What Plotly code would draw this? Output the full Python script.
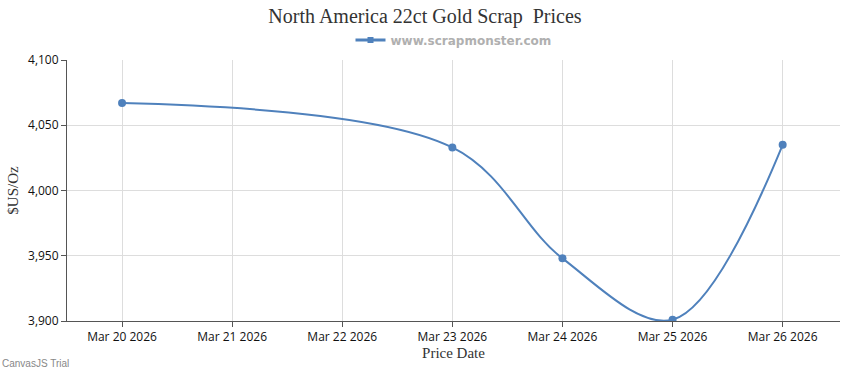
import plotly.graph_objects as go

dates = ["2026-03-20", "2026-03-23", "2026-03-24", "2026-03-25", "2026-03-26"]
prices = [4067, 4033, 3948, 3901, 4035]
tick_dates = ["2026-03-20", "2026-03-21", "2026-03-22", "2026-03-23",
              "2026-03-24", "2026-03-25", "2026-03-26"]
tick_labels = ["Mar 20 2026", "Mar 21 2026", "Mar 22 2026", "Mar 23 2026",
               "Mar 24 2026", "Mar 25 2026", "Mar 26 2026"]
y_ticks = [3900, 3950, 4000, 4050, 4100]
y_labels = ["3,900", "3,950", "4,000", "4,050", "4,100"]
series_name = "www.scrapmonster.com"

color = "#4F81BC"

W, H = 850, 370

fig = go.Figure()
fig.add_trace(go.Scatter(
    x=dates, y=prices, mode="lines+markers",
    name=series_name, showlegend=False,
    line=dict(color=color, width=2, shape="spline", smoothing=1.0),
    marker=dict(color=color, size=8, symbol="circle"),
))
# legend entry (CanvasJS style: line with square marker)
fig.add_trace(go.Scatter(
    x=[None], y=[None], mode="lines+markers", name=series_name,
    line=dict(color=color, width=3),
    marker=dict(color=color, size=6, symbol="square"),
))

fig.update_layout(
    width=W, height=H,
    margin=dict(l=67, r=10, t=60, b=49, autoexpand=False),
    paper_bgcolor="white", plot_bgcolor="white",
    title=dict(text="North America 22ct Gold Scrap  Prices",
               x=0.5, xanchor="center", y=1 - 16 / H, yanchor="middle",
               font=dict(family="Liberation Serif", size=20, color="#333333")),
    showlegend=True,
    legend=dict(orientation="h", x=0.5, xanchor="center",
                yref="container", y=1 - 40 / H, yanchor="middle",
                font=dict(family="DejaVu Sans", size=12, color="#b0b0b0",
                          weight="bold"),
                itemwidth=30, bgcolor="rgba(0,0,0,0)"),
    xaxis=dict(
        type="date",
        range=["2026-03-19 12:00", "2026-03-26 12:30"],
        tickvals=tick_dates, ticktext=tick_labels,
        showgrid=True, gridcolor="#dddddd", gridwidth=1,
        showline=True, linecolor="#555555", linewidth=1,
        ticks="outside", ticklen=5, tickcolor="#555555",
        tickfont=dict(family="Open Sans", size=12, color="#111111"),
        title=dict(text="Price Date", standoff=2,
                   font=dict(family="Liberation Serif", size=15, color="#333333")),
        zeroline=False, automargin=False,
    ),
    yaxis=dict(
        range=[3900, 4100],
        tickvals=y_ticks, ticktext=y_labels,
        showgrid=True, gridcolor="#dddddd", gridwidth=1,
        showline=True, linecolor="#555555", linewidth=1,
        ticks="outside", ticklen=5, tickcolor="#555555",
        tickfont=dict(family="Open Sans", size=12, color="#111111"),
        title=dict(text="$US/Oz", standoff=5,
                   font=dict(family="Liberation Serif", size=15, color="#333333")),
        zeroline=False, automargin=False,
    ),
    annotations=[dict(text="CanvasJS Trial", xref="paper", yref="paper",
                      x=-67 / 773, y=-42 / 261, xanchor="left", yanchor="middle",
                      showarrow=False,
                      font=dict(family="Liberation Sans", size=10, color="#888888"))],
)

fig.write_html("out.html",
               config={"displayModeBar": False},
               post_script="document.body.style.margin='0';")
